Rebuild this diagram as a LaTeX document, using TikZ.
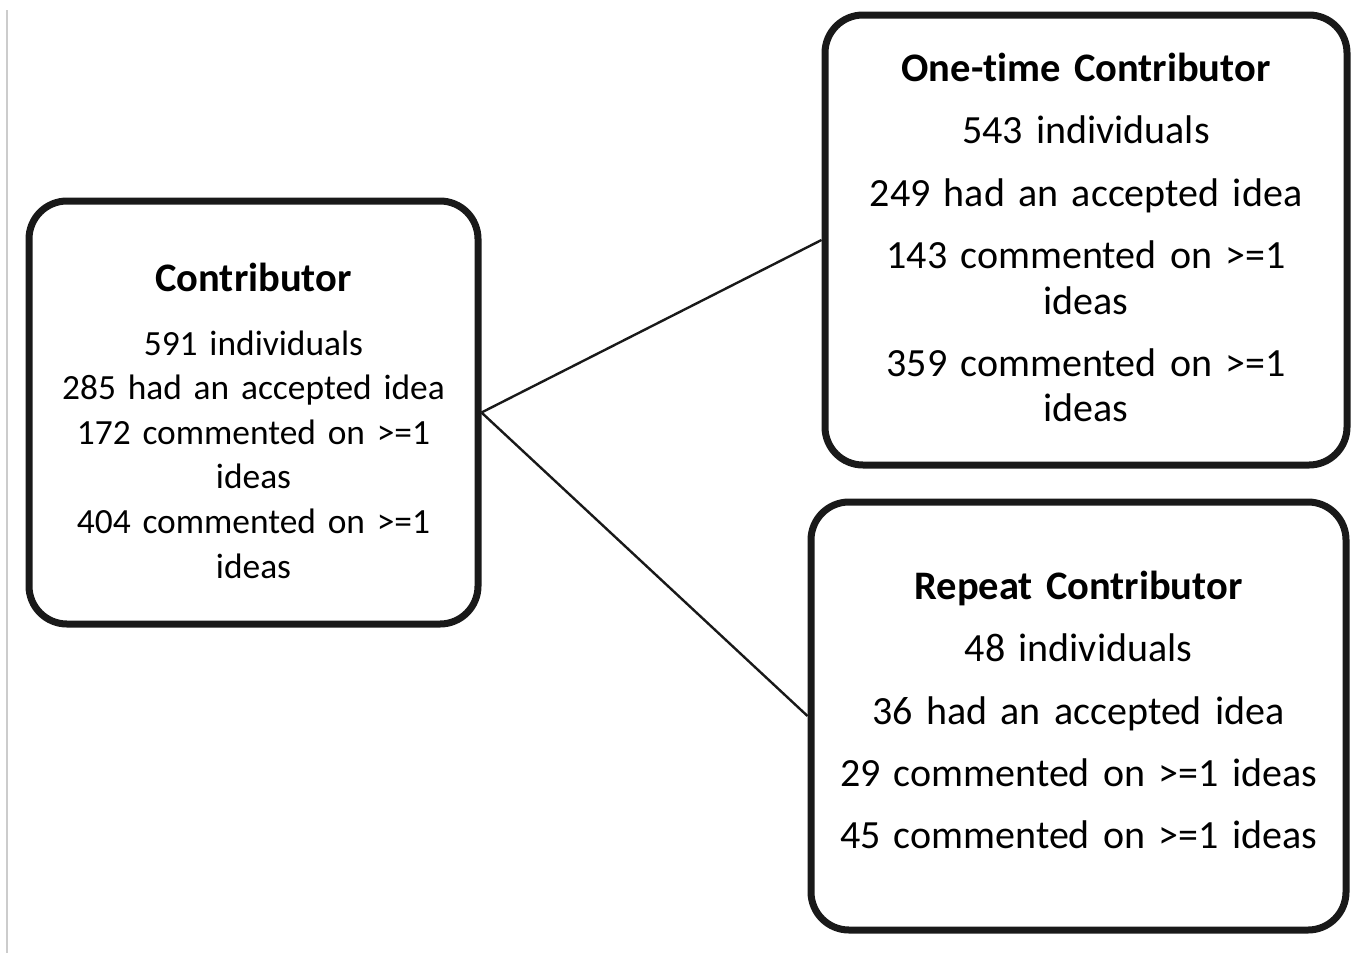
\documentclass[tikz,border=0pt]{standalone}
\usepackage{fontspec}
\setmainfont{Carlito}[Ligatures=NoCommon, WordSpace=0.75]
\usepackage{tikz}

\newcommand{\titulo}[1]{{\fontsize{20.25}{22.75}\selectfont\bfseries #1}}

\begin{document}
\begin{tikzpicture}[x=0.5pt, y=-0.5pt,
    caja/.style={draw=black!90, line width=3.5pt, rounded corners=19pt,
        inner sep=0pt, align=center},
    linea/.style={draw=black!90, line width=1.2pt}]

    \useasboundingbox (0,0) rectangle (1358,953);

    % Borde gris
    \draw[black!20, line width=1pt] (7,10) -- (7,953);

    % Todos los contribuyentes
    \node[caja, minimum width=224.5pt, minimum height=211.5pt, text width=210pt,
          font=\fontsize{17.7}{22.3}\selectfont] (contrib) at (253.5,412.5)
        {\rule{0pt}{22.2pt}\titulo{Contributor}\\[9.7pt]
         591 individuals\\
         285 had an accepted idea\\
         172 commented on >=1\\
         ideas\\
         404 commented on >=1\\
         ideas};

    % Una sola vez
    \node[caja, minimum width=261pt, minimum height=225pt, text width=250pt,
          font=\fontsize{20}{22.75}\selectfont] (onetime) at (1086,240)
        {\titulo{One-time Contributor}\\[8.4pt]
         543 individuals\\[8.4pt]
         249 had an accepted idea\\[8.4pt]
         143 commented on >=1\\
         ideas\\[8.4pt]
         359 commented on >=1\\
         ideas\rule[-2.5pt]{0pt}{2.5pt}};

    % Repetidos
    \node[caja, minimum width=267.5pt, minimum height=214pt, text width=255pt,
          font=\fontsize{20}{22.75}\selectfont] (rep) at (1078.5,716)
        {\titulo{Repeat Contributor}\\[8.4pt]
         48 individuals\\[8.4pt]
         36 had an accepted idea\\[8.4pt]
         29 commented on >=1 ideas\\[8.4pt]
         45 commented on >=1 ideas\rule[-6pt]{0pt}{6pt}};

    % Conectores
    \foreach \destino in {onetime, rep}
        \draw[linea] (contrib.east) -- (\destino.west);
\end{tikzpicture}
\end{document}
